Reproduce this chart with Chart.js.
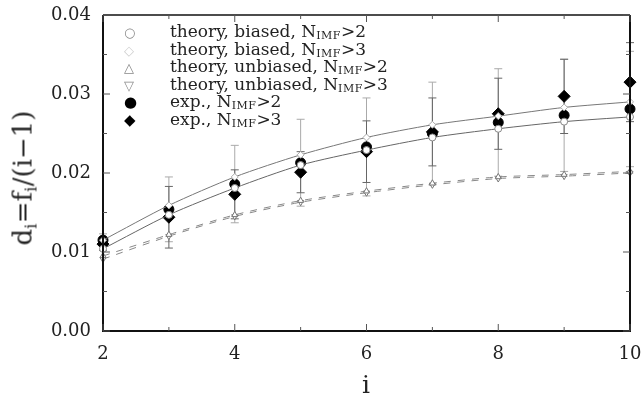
<!DOCTYPE html>
<html>
<head>
<meta charset="UTF-8" />
<title>d_i = f_i/(i-1)</title>
<script src="https://cdn.jsdelivr.net/npm/chart.js"></script>
<style>
  body { margin: 0; background: #fff; }
  #wrap { position: relative; width: 642px; height: 400px; }
  #legend { position: absolute; left: 124px; top: 23px; font: 17px 'DejaVu Serif', serif; color: #222; }
  #legend div { height: 17.6px; line-height: 17.6px; white-space: nowrap; }
  #legend .m { display: inline-block; width: 46px; font-size: 13px; color: #888; }
  #legend .m.f { color: #000; font-size: 15px; }
  sub { font-size: 11px; vertical-align: -2px; letter-spacing: 0.5px; }
  #ytitle { position: absolute; left: 24px; top: 178px; transform: translate(-50%, -50%) rotate(-90deg);
            font: 26px 'DejaVu Serif', serif; white-space: nowrap; color: #222; }
  #ytitle sub { font-size: 16px; vertical-align: -5px; }
  #xtitle { position: absolute; left: 366px; top: 370px; transform: translateX(-50%); font: 25px 'DejaVu Serif', serif; color: #222; }
</style>
</head>
<body>
<div id="wrap">
  <canvas id="chart" width="642" height="400"></canvas>
  <div id="legend">
    <div><span class="m">○</span>theory, biased, N<sub>IMF</sub>&gt;2</div>
    <div><span class="m" style="color:#ccc">◇</span>theory, biased, N<sub>IMF</sub>&gt;3</div>
    <div><span class="m">△</span>theory, unbiased, N<sub>IMF</sub>&gt;2</div>
    <div><span class="m">▽</span>theory, unbiased, N<sub>IMF</sub>&gt;3</div>
    <div><span class="m f">●</span>exp., N<sub>IMF</sub>&gt;2</div>
    <div><span class="m f">◆</span>exp., N<sub>IMF</sub>&gt;3</div>
  </div>
  <div id="ytitle">d<sub>i</sub>=f<sub>i</sub>/(i−1)</div>
  <div id="xtitle">i</div>
</div>

<script>
  const iValues = [2, 3, 4, 5, 6, 7, 8, 9, 10];

  const biased2   = [0.0104, 0.0147, 0.0181, 0.0210, 0.0229, 0.0245, 0.0256, 0.0265, 0.0271];
  const biased3   = [0.0115, 0.0159, 0.0195, 0.0223, 0.0245, 0.0261, 0.0272, 0.0283, 0.0290];
  const unbiased2 = [0.0095, 0.0122, 0.0147, 0.0165, 0.0177, 0.0187, 0.0195, 0.0198, 0.0202];
  const unbiased3 = [0.0091, 0.0120, 0.0145, 0.0163, 0.0175, 0.0185, 0.0193, 0.0196, 0.0200];

  const exp2 = [0.0115, 0.0154, 0.0186, 0.0213, 0.0233, 0.0250, 0.0264, 0.0273, 0.0281];
  const exp3 = [0.0110, 0.0144, 0.0173, 0.0201, 0.0227, 0.0252, 0.0275, 0.0297, 0.0315];
  const err2 = [0.0008, 0.0041, 0.0049, 0.0055, 0.0062, 0.0065, 0.0068, 0.0071, 0.0073];
  const err3 = [0.0008, 0.0039, 0.0031, 0.0026, 0.0039, 0.0043, 0.0045, 0.0047, 0.0050];

  const xTicks = [2, 4, 6, 8, 10];
  const yTicks = [0.00, 0.01, 0.02, 0.03, 0.04];

  function pts(arr) {
    return iValues.map((x, k) => ({ x: x, y: arr[k] }));
  }

  const serif = "'DejaVu Serif', serif";

  function noPad(s) {
    s.paddingLeft = 0; s.paddingRight = 0; s.paddingTop = 0; s.paddingBottom = 0;
  }

  // error bars drawn under the points
  const errorBars = {
    id: 'errorBars',
    beforeDatasetsDraw(chart) {
      const ctx = chart.ctx;
      const xs = chart.scales.x, ys = chart.scales.y;
      chart.data.datasets.forEach(ds => {
        if (!ds.err) return;
        ctx.save();
        ctx.strokeStyle = ds.errColor;
        ctx.lineWidth = 1;
        ds.data.forEach((p, k) => {
          const px = xs.getPixelForValue(p.x);
          const top = ys.getPixelForValue(p.y + ds.err[k]);
          const bot = ys.getPixelForValue(p.y - ds.err[k]);
          ctx.beginPath();
          ctx.moveTo(px, top); ctx.lineTo(px, bot);
          ctx.moveTo(px - 4, top); ctx.lineTo(px + 4, top);
          ctx.moveTo(px - 4, bot); ctx.lineTo(px + 4, bot);
          ctx.stroke();
        });
        ctx.restore();
      });
    }
  };

  // frame with inward ticks on all four sides
  const frame = {
    id: 'frame',
    afterDatasetsDraw(chart) {
      const ctx = chart.ctx;
      const a = chart.chartArea;
      const xs = chart.scales.x, ys = chart.scales.y;
      ctx.save();
      ctx.strokeStyle = '#111';
      ctx.lineWidth = 2;
      ctx.beginPath();
      ctx.moveTo(a.left, a.top); ctx.lineTo(a.left, a.bottom); ctx.lineTo(a.right, a.bottom); ctx.lineTo(a.right, a.top);
      ctx.stroke();
      ctx.lineWidth = 1.3;
      ctx.beginPath();
      ctx.moveTo(a.left, a.top); ctx.lineTo(a.right, a.top);
      ctx.stroke();
      ctx.lineWidth = 1;
      ctx.strokeStyle = '#555';
      ctx.beginPath();
      for (let v = 2; v <= 10; v++) {
        const len = v % 2 === 0 ? 7 : 4;
        const px = xs.getPixelForValue(v);
        ctx.moveTo(px, a.bottom); ctx.lineTo(px, a.bottom - len);
        ctx.moveTo(px, a.top); ctx.lineTo(px, a.top + len);
      }
      for (let k = 0; k <= 8; k++) {
        const len = k % 2 === 0 ? 7 : 4;
        const py = ys.getPixelForValue(k * 0.005);
        ctx.moveTo(a.left, py); ctx.lineTo(a.left + len, py);
        ctx.moveTo(a.right, py); ctx.lineTo(a.right - len, py);
      }
      ctx.stroke();
      ctx.restore();
    }
  };

  new Chart(document.getElementById('chart'), {
    type: 'line',
    data: {
      datasets: [
        { label: 'theory, biased, NIMF>2', data: pts(biased2), borderColor: '#666', borderWidth: 1,
          pointStyle: 'circle', pointRadius: 3.5, pointBorderColor: '#888', pointBackgroundColor: '#fff', tension: 0.25 },
        { label: 'theory, biased, NIMF>3', data: pts(biased3), borderColor: '#777', borderWidth: 1,
          pointStyle: 'rectRot', pointRadius: 3.5, pointBorderColor: '#aaa', pointBackgroundColor: '#fff', tension: 0.25 },
        { label: 'theory, unbiased, NIMF>2', data: pts(unbiased2), borderColor: '#888', borderWidth: 1, borderDash: [7, 7],
          pointStyle: 'triangle', pointRadius: 3.5, pointBorderColor: '#777', pointBackgroundColor: '#fff', tension: 0.25 },
        { label: 'theory, unbiased, NIMF>3', data: pts(unbiased3), borderColor: '#888', borderWidth: 1, borderDash: [7, 7],
          pointStyle: 'triangle', pointRotation: 180, pointRadius: 3.5, pointBorderColor: '#777', pointBackgroundColor: '#fff', tension: 0.25 },
        { label: 'exp., NIMF>2', data: pts(exp2), showLine: false, err: err2, errColor: '#aaa',
          pointStyle: 'circle', pointRadius: 5, pointBorderColor: '#000', pointBackgroundColor: '#000' },
        { label: 'exp., NIMF>3', data: pts(exp3), showLine: false, err: err3, errColor: '#666',
          pointStyle: 'rectRot', pointRadius: 6, pointBorderColor: '#000', pointBackgroundColor: '#000' }
      ]
    },
    options: {
      responsive: false,
      animation: false,
      clip: false,
      layout: { padding: { top: 15, right: 12, left: 0, bottom: 0 } },
      plugins: { legend: { display: false }, tooltip: { enabled: false } },
      scales: {
        x: {
          type: 'linear', min: 2, max: 10,
          grid: { display: false, drawTicks: false },
          border: { display: false },
          afterBuildTicks: s => { s.ticks = xTicks.map(v => ({ value: v })); },
          afterFit: s => { s.height = 69; noPad(s); },
          ticks: { font: { family: serif, size: 18 }, color: '#222', padding: 13, maxRotation: 0 }
        },
        y: {
          type: 'linear', min: 0, max: 0.04,
          grid: { display: false, drawTicks: false },
          border: { display: false },
          afterBuildTicks: s => { s.ticks = yTicks.map(v => ({ value: v })); },
          afterFit: s => { s.width = 103; noPad(s); },
          ticks: { font: { family: serif, size: 18 }, color: '#222', padding: 12, callback: v => v.toFixed(2) }
        }
      }
    },
    plugins: [errorBars, frame]
  });
</script>
</body>
</html>
